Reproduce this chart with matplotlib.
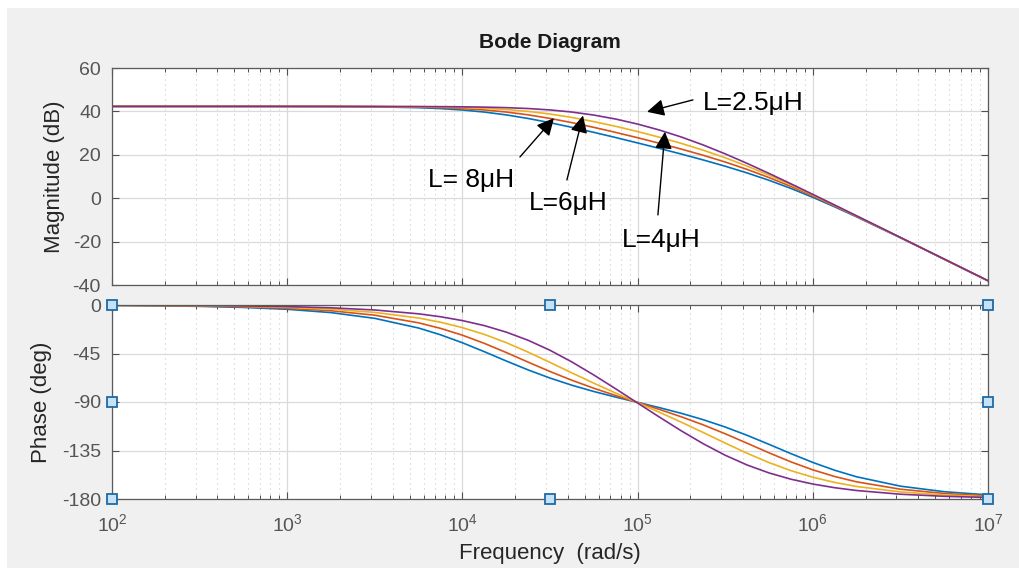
import numpy as np
import matplotlib
matplotlib.use("Agg")
import matplotlib.pyplot as plt
from matplotlib.patches import Rectangle

plt.rcParams['font.family'] = ['Liberation Sans', 'DejaVu Sans']
plt.rcParams['mathtext.fontset'] = 'custom'
plt.rcParams['mathtext.rm'] = 'Liberation Sans'
plt.rcParams['mathtext.it'] = 'Liberation Sans:italic'
plt.rcParams['axes.unicode_minus'] = False

# ---- data (rad/s, dB, deg) ----
freq = [1e2, 178, 316, 562, 1e3, 1778, 3162, 5623, 7499,
        1e4, 13335, 17783, 23714, 31623, 42170, 56234, 74989,
        1e5, 133352, 177828, 237137, 316228, 421697, 562341, 749894,
        1e6, 1333521, 1778279, 3162278, 5623413, 1e7]

labels = ['L=8μH', 'L=6μH', 'L=4μH', 'L=2.5μH']

mag_8 = [42.30, 42.30, 42.30, 42.29, 42.28, 42.24, 42.10, 41.71, 41.30,
         40.65, 39.70, 38.39, 36.74, 34.80, 32.65, 30.35, 27.95,
         25.47, 22.94, 20.32, 17.61, 14.74, 11.64, 8.25, 4.50,
         0.41, -3.98, -8.60, -18.23, -28.11, -38.07]
mag_6 = [42.30, 42.30, 42.30, 42.30, 42.29, 42.27, 42.19, 41.96, 41.72,
         41.31, 40.67, 39.72, 38.42, 36.77, 34.82, 32.65, 30.32,
         27.87, 25.31, 22.62, 19.76, 16.67, 13.27, 9.52, 5.42,
         1.02, -3.59, -8.37, -18.15, -28.09, -38.05]
mag_4 = [42.30, 42.30, 42.30, 42.30, 42.30, 42.28, 42.25, 42.13, 42.01,
         41.79, 41.44, 40.87, 40.00, 38.79, 37.21, 35.30, 33.12,
         30.71, 28.09, 25.24, 22.10, 18.63, 14.79, 10.61, 6.15,
         1.48, -3.32, -8.21, -18.10, -28.07, -38.03]
mag_25 = [42.30, 42.30, 42.30, 42.30, 42.29, 42.29, 42.28, 42.24, 42.19,
          42.11, 41.97, 41.73, 41.32, 40.68, 39.70, 38.31, 36.47,
          34.16, 31.40, 28.18, 24.51, 20.43, 16.04, 11.42, 6.64,
          1.77, -3.15, -8.11, -18.07, -28.06, -38.02]

ph_8 = [-0.40, -0.71, -1.26, -2.24, -3.97, -7.04, -12.39, -21.38, -27.63,
        -35.04, -43.31, -51.93, -60.22, -67.79, -74.44, -80.25, -85.45,
        -90.34, -95.26, -100.53, -106.44, -113.22, -120.91, -129.30, -137.89,
        -146.07, -153.32, -159.40, -168.09, -173.24, -176.19]
ph_6 = [-0.30, -0.54, -0.95, -1.70, -3.01, -5.35, -9.46, -16.55, -21.67,
        -28.02, -35.58, -44.08, -52.99, -61.72, -69.85, -77.24, -84.01,
        -90.45, -96.92, -103.76, -111.25, -119.48, -128.27, -137.16, -145.55,
        -152.95, -159.13, -164.08, -170.91, -174.86, -177.11]
ph_4 = [-0.22, -0.39, -0.69, -1.22, -2.17, -3.86, -6.85, -12.09, -15.98,
        -20.99, -27.28, -34.92, -43.72, -53.27, -63.02, -72.56, -81.72,
        -90.63, -99.55, -108.77, -118.34, -128.10, -137.58, -146.24, -153.68,
        -159.79, -164.63, -168.38, -173.42, -176.29, -177.91]
ph_25 = [-0.15, -0.26, -0.46, -0.82, -1.46, -2.60, -4.62, -8.19, -10.89,
         -14.46, -19.11, -25.15, -32.72, -42.00, -52.86, -64.95, -77.78,
         -90.93, -104.06, -116.82, -128.75, -139.40, -148.45, -155.81, -161.62,
         -166.11, -169.53, -172.13, -175.57, -177.50, -178.60]

mag_ticks = [-40, -20, 0, 20, 40, 60]
phase_ticks = [-180, -135, -90, -45, 0]
freq_ticks = [1e2, 1e3, 1e4, 1e5, 1e6, 1e7]
freq_ticklabels = ['$10^{2}$', '$10^{3}$', '$10^{4}$', '$10^{5}$', '$10^{6}$', '$10^{7}$']

colors = ['#0072BD', '#D95319', '#EDB120', '#7E2F8E']

W, H = 1019, 568
fig = plt.figure(figsize=(W / 100, H / 100), dpi=100)
fig.patch.set_facecolor('white')
fig.patches.append(Rectangle((7 / W, 0), 1, 1 - 8 / H, transform=fig.transFigure,
                             facecolor='#f0f0f0', edgecolor='none', zorder=-10))

ax1 = fig.add_axes([112 / W, 1 - 285 / H, 876 / W, 217 / H])
ax2 = fig.add_axes([112 / W, 1 - 499 / H, 876 / W, 194 / H], sharex=ax1)

for mag, c in zip([mag_8, mag_6, mag_4, mag_25], colors):
    ax1.plot(freq, mag, color=c, lw=1.2)
for ph, c in zip([ph_8, ph_6, ph_4, ph_25], colors):
    ax2.plot(freq, ph, color=c, lw=1.2)

for ax in (ax1, ax2):
    ax.set_xscale('log')
    ax.set_xlim(1e2, 1e7)
    ax.set_facecolor('white')
    ax.set_axisbelow(True)
    ax.grid(True, which='major', color='#dadada', lw=0.9, ls='-')
    ax.grid(True, which='minor', axis='x', color='#cccccc', lw=0.8, ls=(0, (1, 3.5)))
    ax.tick_params(which='both', direction='in', top=True, right=True,
                   color='#505050', labelcolor='#555555', labelsize=14)
    ax.tick_params(which='major', length=5, width=0.8)
    ax.tick_params(which='minor', length=3, width=0.7)
    ax.tick_params(axis='y', pad=8)
    for s in ax.spines.values():
        s.set_color('#5a5a5a')
        s.set_linewidth(0.9)

ax1.set_ylim(-40, 60)
ax1.set_yticks(mag_ticks)
ax1.tick_params(axis='x', which='both', labelbottom=False)
ax1.set_ylabel('Magnitude (dB)', fontsize=16, color='#262626')
ax1.yaxis.set_label_coords(-0.054, 0.5)

ax2.set_ylim(-180, 0)
ax2.set_yticks(phase_ticks)
ax2.set_xticks(freq_ticks)
ax2.set_xticklabels(freq_ticklabels)
ax2.tick_params(axis='x', which='major', pad=10)
ax2.set_ylabel('Phase (deg)', fontsize=16, color='#262626')
ax2.yaxis.set_label_coords(-0.069, 0.5)
ax2.set_xlabel('Frequency  (rad/s)', fontsize=16, color='#262626')
ax2.xaxis.set_label_coords(0.5, -0.225)

fig.text(550 / W, 1 - 43 / H, 'Bode Diagram', ha='center', va='center',
         fontsize=15, fontweight='bold', color='#1a1a1a')

# annotations on the magnitude plot
ann_text = [(6.37e3, 5.1), (2.38e4, -5.4), (8.11e4, -22.3), (2.36e5, 40.7)]
ann_tail = [(2.13e4, 19.0), (3.95e4, 8.4), (1.306e5, -7.7), (2.07e5, 45.3)]
ann_head = [(3.33e4, 36.9), (4.88e4, 38.1), (1.432e5, 30.6), (1.132e5, 39.8)]
ann_str = ['L= 8μH', 'L=6μH', 'L=4μH', 'L=2.5μH']
for s, tp, tl, hd in zip(ann_str, ann_text, ann_tail, ann_head):
    ax1.text(tp[0], tp[1], s, fontsize=19, ha='left', va='baseline', color='black')
    ax1.annotate('', xy=hd, xytext=tl,
                 arrowprops=dict(arrowstyle='-|>', color='black', lw=1.0,
                                 mutation_scale=26, shrinkA=0, shrinkB=0))

# selection handles around the phase axes
for fx, fy in [(0, 0), (0, 0.5), (0, 1), (0.5, 0), (0.5, 1), (1, 0), (1, 0.5), (1, 1)]:
    ax2.plot(fx, fy, marker='s', ms=7.5, mfc='#c5e2f7', mec='#1f6aa5', mew=1.3,
             transform=ax2.transAxes, clip_on=False, zorder=10)

fig.savefig('out.png', dpi=100, facecolor=fig.get_facecolor())
